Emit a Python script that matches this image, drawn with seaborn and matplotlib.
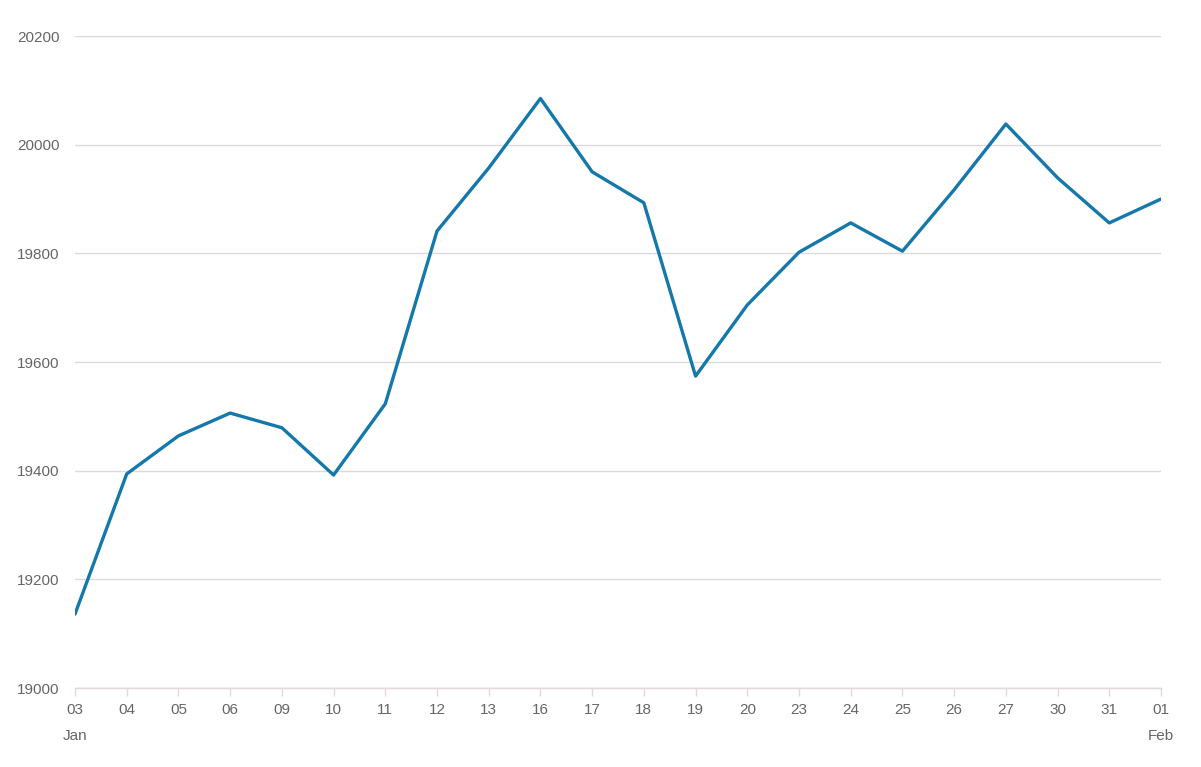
import numpy as np
import pandas as pd
import matplotlib
matplotlib.use("Agg")
import matplotlib.pyplot as plt
import seaborn as sns

# trading days (Jan 03 -> Feb 01)
days = ["03", "04", "05", "06", "09", "10", "11", "12", "13", "16", "17",
        "18", "19", "20", "23", "24", "25", "26", "27", "30", "31", "01"]
months = {0: "Jan", 21: "Feb"}
closes = [19136, 19394, 19464, 19506, 19479, 19392, 19523, 19841, 19957,
          20085, 19950, 19893, 19574, 19705, 19802, 19856, 19804, 19917,
          20038, 19939, 19856, 19900]
y_ticks = [19000, 19200, 19400, 19600, 19800, 20000, 20200]

sns.set_style("white")
plt.rcParams['font.family'] = ['Liberation Sans', 'DejaVu Sans']

df = pd.DataFrame({'pos': np.arange(len(days)), 'close': closes})

fig = plt.figure(figsize=(12.01, 7.67), dpi=100)
ax = fig.add_axes([75 / 1201, 79 / 767, 1086 / 1201, 652 / 767])

sns.lineplot(x='pos', y='close', data=df, ax=ax, color='#1578ab', linewidth=2.4)

ax.set_xlim(0, len(days) - 1)
ax.set_ylim(19000, 20200)
ax.set_yticks(y_ticks)
ax.set_yticklabels([str(t) for t in y_ticks])
ax.set_xticks(df['pos'])
ax.set_xticklabels([d + ("\n" + months[i] if i in months else "\n") for i, d in enumerate(days)],
                   linespacing=2.1)

ax.grid(axis='y', color='#dcdae0', linewidth=1)
ax.set_axisbelow(True)
for side in ['top', 'right', 'left']:
    ax.spines[side].set_visible(False)
ax.spines['bottom'].set_color('#e3d6dc')
ax.spines['bottom'].set_linewidth(1)

ax.tick_params(axis='y', left=False, length=0, pad=11, labelsize=11, labelcolor='#666666')
ax.tick_params(axis='x', bottom=True, direction='out', length=6, width=1, color='#e3d6dc',
               pad=5, labelsize=11, labelcolor='#666666')
ax.set_xlabel('')
ax.set_ylabel('')

fig.savefig('out.png', dpi=100)
